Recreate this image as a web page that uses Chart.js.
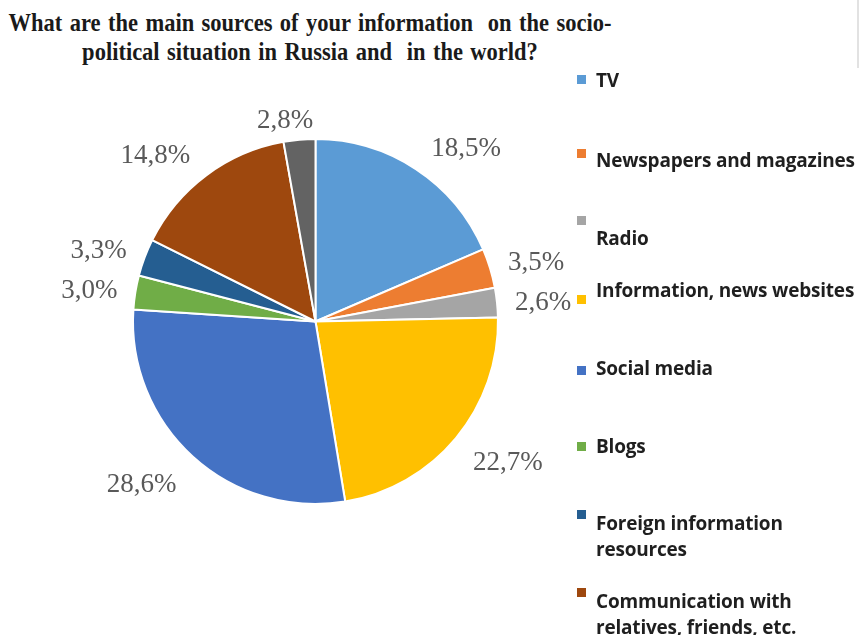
<!DOCTYPE html>
<html>
<head>
  <title>Sources of information - Pie Chart</title>
  <script src="https://cdn.jsdelivr.net/npm/chart.js"></script>
  <style>
    body { margin: 0; background: #fff; }
    #wrap { position: relative; width: 862px; height: 635px; overflow: hidden; }
    #pieChart { position: absolute; left: 0; top: 0; }
    #title {
      position: absolute; left: -40px; top: 8px; width: 700px;
      text-align: center; font-family: "Liberation Serif", "Times New Roman", serif;
      font-weight: bold; font-size: 25px; line-height: 29px; color: #1a1a1a;
      word-spacing: 2px; transform: scaleX(0.9); transform-origin: 350px 0;
      white-space: nowrap;
    }
    #edge { position: absolute; left: 857px; top: 0; width: 2px; height: 68px; background: #e2e2e2; }
    .legItem { position: absolute; left: 577px; font-family: "Open Sans", "Liberation Sans", sans-serif;
      font-weight: bold; font-size: 19px; line-height: 26px; color: #1f1f1f; }
    .legItem .sw { position: absolute; left: 0; width: 9px; height: 9px; }
    .legItem .tx { position: absolute; left: 19px; white-space: nowrap; letter-spacing: -0.2px; }
  </style>
</head>
<body>
  <div id="wrap">
    <div id="title">What are the main sources of your information&nbsp; on the socio-<br>political situation in Russia and&nbsp; in the world?</div>
    <div id="edge"></div>
    <canvas id="pieChart" width="862" height="635"></canvas>
  </div>

  <script>
    // Survey answers, share of respondents (%)
    const sources = [
      'TV',
      'Newspapers and magazines',
      'Radio',
      'Information, news websites',
      'Social media',
      'Blogs',
      'Foreign information resources',
      'Communication with relatives, friends, etc.',
      'Other'
    ];
    const shares = [18.5, 3.5, 2.6, 22.7, 28.6, 3.0, 3.3, 14.8, 2.8];
    const sliceColors = ['#5B9BD5', '#ED7D31', '#A5A5A5', '#FFC000', '#4472C4', '#70AD47', '#255E91', '#9E480E', '#636363'];

    // Legend text as it wraps on the right side (last entry does not fit on the page)
    const legendLines = [
      ['TV'],
      ['Newspapers and magazines'],
      ['Radio'],
      ['Information, news websites'],
      ['Social media'],
      ['Blogs'],
      ['Foreign information', 'resources'],
      ['Communication with', 'relatives, friends, etc.']
    ];
    const legendTops = [67, 147, 225, 277, 355, 433, 510, 588];
    const swatchOffsets = [8, 2, -9, 18, 11, 9, 0, 0];

    // Build the legend blocks
    const wrap = document.getElementById('wrap');
    legendLines.forEach((lines, i) => {
      const item = document.createElement('div');
      item.className = 'legItem';
      item.style.top = legendTops[i] + 'px';
      const sw = document.createElement('div');
      sw.className = 'sw';
      sw.style.background = sliceColors[i];
      sw.style.top = swatchOffsets[i] + 'px';
      const tx = document.createElement('div');
      tx.className = 'tx';
      tx.innerHTML = lines.join('<br>');
      item.appendChild(sw);
      item.appendChild(tx);
      wrap.appendChild(item);
    });

    // Percentage labels outside the pie, comma as decimal separator
    const outsideLabels = {
      id: 'outsideLabels',
      afterDatasetsDraw(chart) {
        const ctx = chart.ctx;
        const meta = chart.getDatasetMeta(0);
        ctx.save();
        ctx.font = '27px "Liberation Serif", "Times New Roman", serif';
        ctx.fillStyle = '#595959';
        ctx.textAlign = 'center';
        ctx.textBaseline = 'middle';
        meta.data.forEach((arc, i) => {
          const p = arc.getProps(['x', 'y', 'startAngle', 'endAngle', 'outerRadius'], true);
          const mid = (p.startAngle + p.endAngle) / 2;
          const c = Math.cos(mid), s = Math.sin(mid);
          const txt = shares[i].toFixed(1).replace('.', ',') + '%';
          const w = ctx.measureText(txt).width;
          const r = p.outerRadius + 18;
          // push the text box out so its inner corner sits just off the rim
          const ox = Math.sign(c) * Math.min(1, 4 * Math.abs(c)) * (w / 2 + 8 - 8 * c * c);
          const oy = 10 * s * Math.min(1, 4 * Math.abs(c)) + 6 * Math.max(0, s) + 3;
          ctx.fillText(txt, p.x + c * r + ox, p.y + s * r + oy);
        });
        ctx.restore();
      }
    };

    new Chart(document.getElementById('pieChart').getContext('2d'), {
      type: 'pie',
      data: {
        labels: sources,
        datasets: [{
          data: shares,
          backgroundColor: sliceColors,
          borderColor: '#ffffff',
          borderWidth: 2
        }]
      },
      options: {
        responsive: false,
        animation: false,
        layout: { padding: { left: 132, right: 363, top: 138, bottom: 130 } },
        plugins: {
          legend: { display: false },
          tooltip: { enabled: false }
        }
      },
      plugins: [outsideLabels]
    });
  </script>
</body>
</html>
